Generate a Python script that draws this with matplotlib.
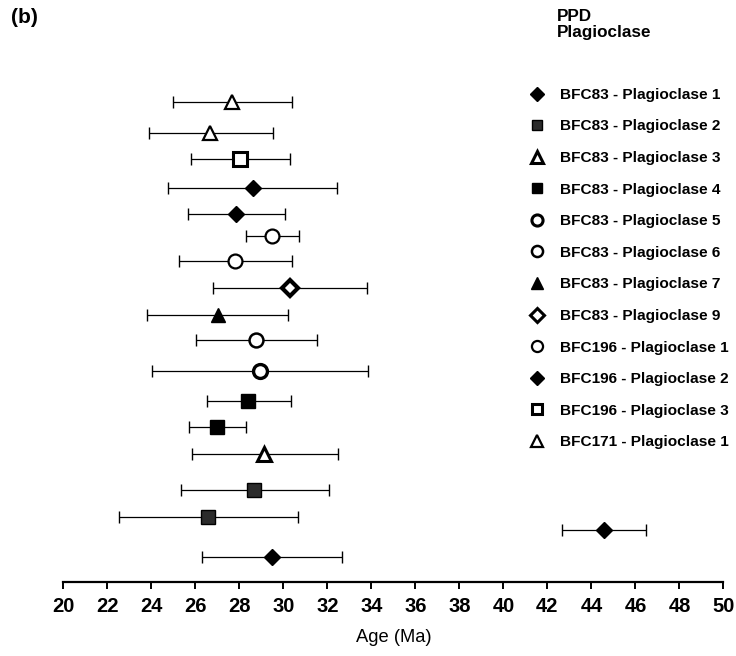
import matplotlib
matplotlib.use("Agg")
import matplotlib.pyplot as plt
from matplotlib.lines import Line2D

plt.rcParams['font.family'] = ['Liberation Sans', 'DejaVu Sans']

# Samples (legend order)
samples = ["BFC83 - Plagioclase 1", "BFC83 - Plagioclase 2", "BFC83 - Plagioclase 3",
           "BFC83 - Plagioclase 4", "BFC83 - Plagioclase 5", "BFC83 - Plagioclase 6",
           "BFC83 - Plagioclase 7", "BFC83 - Plagioclase 9", "BFC196 - Plagioclase 1",
           "BFC196 - Plagioclase 2", "BFC196 - Plagioclase 3", "BFC171 - Plagioclase 1"]

# Analyses: sample index, age (Ma), lower / upper error limit, vertical row position
sample_idx = [11, 11, 10, 9, 9, 8, 8, 7, 6, 5, 4, 3, 3, 2, 1, 1, 0, 0]
age = [27.65, 26.67, 28.03, 28.61, 27.85, 29.5, 27.8, 30.30, 27.02, 28.76, 28.94,
       28.41, 27.0, 29.14, 28.68, 26.59, 44.59, 29.5]
age_lo = [24.97, 23.91, 25.79, 24.75, 25.68, 28.29, 25.26, 26.82, 23.82, 26.02, 24.05,
          26.52, 25.71, 25.84, 25.34, 22.53, 42.67, 26.32]
age_hi = [30.38, 29.52, 30.30, 32.43, 30.08, 30.73, 30.41, 33.79, 30.23, 31.52, 33.85,
          30.35, 28.29, 32.49, 32.06, 30.67, 46.47, 32.68]
row = [480, 449, 423, 394, 368, 346, 321, 294, 267, 242, 211, 181, 155, 128, 92, 65, 52, 25]

# marker style per sample: (marker, facecolor, edgewidth)
styles = [("D", "black", 1.0), ("s", "#2b2b2b", 1.0), ("^", "white", 2.2),
          ("s", "black", 1.0), ("o", "white", 2.4), ("o", "white", 1.8),
          ("^", "black", 1.0), ("D", "white", 3.0), ("o", "white", 1.6),
          ("D", "black", 1.0), ("s", "white", 2.2), ("^", "white", 1.6)]
msize = {"D": 8.5, "s": 9.5, "^": 10, "o": 10}

fig = plt.figure(figsize=(7.36, 6.56), dpi=100)
ax = fig.add_axes([0.086, 0.1128, 0.897, 0.7957])

for s, a, lo, hi, r in zip(sample_idx, age, age_lo, age_hi, row):
    m, fc, ew = styles[s]
    ax.errorbar([a], [r], xerr=[[a - lo], [hi - a]], fmt='none', ecolor='black',
                elinewidth=0.9, capsize=4, capthick=1.0, zorder=1)
    ax.plot([a], [r], marker=m, markersize=msize[m], markerfacecolor=fc,
            markeredgecolor='black', markeredgewidth=ew, linestyle='none', zorder=3)

ax.set_xlim(20, 50)
ax.set_ylim(0, 522)
ax.set_xticks(range(20, 51, 2))
ax.set_yticks([])
for sp in ['top', 'left', 'right']:
    ax.spines[sp].set_visible(False)
ax.spines['bottom'].set_linewidth(1.6)
ax.tick_params(axis='x', direction='out', length=5, width=1.4, pad=6,
               labelsize=14.5)
for lab in ax.get_xticklabels():
    lab.set_fontweight('bold')
ax.set_xlabel("Age (Ma)", fontsize=13.2, labelpad=9)
ax.patch.set_alpha(0)

# legend
handles = []
for (m, fc, ew), lab in zip(styles, samples):
    handles.append(Line2D([], [], marker=m, linestyle='none', markersize=msize[m] * 0.8,
                          markerfacecolor=fc, markeredgecolor='black',
                          markeredgewidth=min(ew, 2.2), label=lab))
leg = fig.legend(handles=handles, loc='upper left', bbox_to_anchor=(0.719, 0.866),
                 frameon=False, prop={'weight': 'bold', 'size': 11.1},
                 handlelength=1.0, handletextpad=1.0, labelspacing=1.14,
                 borderaxespad=0, borderpad=0)
fig.text(0.757, 0.987, "PPD\nPlagioclase", fontsize=12.3, fontweight='bold',
         va='top', ha='left', linespacing=1.12)
fig.text(0.015, 0.988, "(b)", fontsize=15, fontweight='bold', va='top', ha='left')

fig.savefig("out.png", dpi=100)
